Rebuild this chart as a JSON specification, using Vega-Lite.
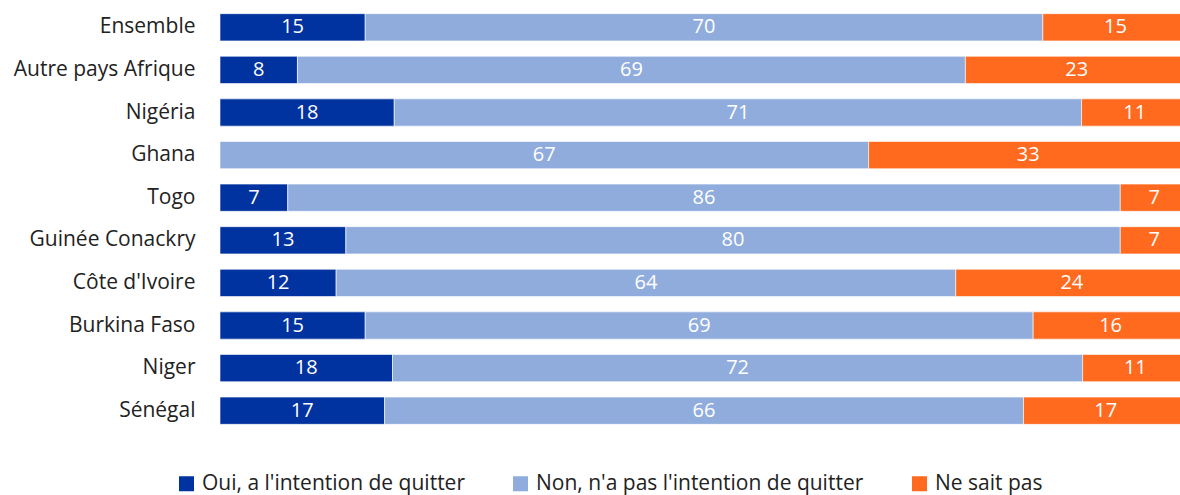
{
  "$schema": "https://vega.github.io/schema/vega-lite/v6.json",
  "width": 960,
  "height": 426,
  "autosize": {"type": "none"},
  "padding": {"left": 220, "top": 6, "right": 0, "bottom": 63},
  "background": "white",
  "config": {
    "view": {"stroke": null},
    "font": "Open Sans",
    "axis": {"labelFont": "Open Sans"},
    "legend": {"labelFont": "Open Sans"}
  },
  "data": {
    "values": [
      {"pays": "Ensemble", "reponse": "Oui, a l'intention de quitter", "rang": 1, "valeur": 15},
      {"pays": "Ensemble", "reponse": "Non, n'a pas l'intention de quitter", "rang": 2, "valeur": 70},
      {"pays": "Ensemble", "reponse": "Ne sait pas", "rang": 3, "valeur": 15},
      {"pays": "Autre pays Afrique", "reponse": "Oui, a l'intention de quitter", "rang": 1, "valeur": 8},
      {"pays": "Autre pays Afrique", "reponse": "Non, n'a pas l'intention de quitter", "rang": 2, "valeur": 69},
      {"pays": "Autre pays Afrique", "reponse": "Ne sait pas", "rang": 3, "valeur": 23},
      {"pays": "Nigéria", "reponse": "Oui, a l'intention de quitter", "rang": 1, "valeur": 18},
      {"pays": "Nigéria", "reponse": "Non, n'a pas l'intention de quitter", "rang": 2, "valeur": 71},
      {"pays": "Nigéria", "reponse": "Ne sait pas", "rang": 3, "valeur": 11},
      {"pays": "Ghana", "reponse": "Oui, a l'intention de quitter", "rang": 1, "valeur": 0},
      {"pays": "Ghana", "reponse": "Non, n'a pas l'intention de quitter", "rang": 2, "valeur": 67},
      {"pays": "Ghana", "reponse": "Ne sait pas", "rang": 3, "valeur": 33},
      {"pays": "Togo", "reponse": "Oui, a l'intention de quitter", "rang": 1, "valeur": 7},
      {"pays": "Togo", "reponse": "Non, n'a pas l'intention de quitter", "rang": 2, "valeur": 86},
      {"pays": "Togo", "reponse": "Ne sait pas", "rang": 3, "valeur": 7},
      {"pays": "Guinée Conackry", "reponse": "Oui, a l'intention de quitter", "rang": 1, "valeur": 13},
      {"pays": "Guinée Conackry", "reponse": "Non, n'a pas l'intention de quitter", "rang": 2, "valeur": 80},
      {"pays": "Guinée Conackry", "reponse": "Ne sait pas", "rang": 3, "valeur": 7},
      {"pays": "Côte d'Ivoire", "reponse": "Oui, a l'intention de quitter", "rang": 1, "valeur": 12},
      {"pays": "Côte d'Ivoire", "reponse": "Non, n'a pas l'intention de quitter", "rang": 2, "valeur": 64},
      {"pays": "Côte d'Ivoire", "reponse": "Ne sait pas", "rang": 3, "valeur": 24},
      {"pays": "Burkina Faso", "reponse": "Oui, a l'intention de quitter", "rang": 1, "valeur": 15},
      {"pays": "Burkina Faso", "reponse": "Non, n'a pas l'intention de quitter", "rang": 2, "valeur": 69},
      {"pays": "Burkina Faso", "reponse": "Ne sait pas", "rang": 3, "valeur": 16},
      {"pays": "Niger", "reponse": "Oui, a l'intention de quitter", "rang": 1, "valeur": 18},
      {"pays": "Niger", "reponse": "Non, n'a pas l'intention de quitter", "rang": 2, "valeur": 72},
      {"pays": "Niger", "reponse": "Ne sait pas", "rang": 3, "valeur": 11},
      {"pays": "Sénégal", "reponse": "Oui, a l'intention de quitter", "rang": 1, "valeur": 17},
      {"pays": "Sénégal", "reponse": "Non, n'a pas l'intention de quitter", "rang": 2, "valeur": 66},
      {"pays": "Sénégal", "reponse": "Ne sait pas", "rang": 3, "valeur": 17}
    ]
  },
  "transform": [
    {"stack": "valeur", "groupby": ["pays"], "offset": "normalize", "sort": [{"field": "rang", "order": "ascending"}], "as": ["v0", "v1"]},
    {"calculate": "(datum.v0 + datum.v1) / 2", "as": "vmid"}
  ],
  "encoding": {
    "y": {
      "field": "pays",
      "type": "nominal",
      "sort": ["Ensemble", "Autre pays Afrique", "Nigéria", "Ghana", "Togo", "Guinée Conackry", "Côte d'Ivoire", "Burkina Faso", "Niger", "Sénégal"],
      "scale": {"paddingInner": 0.36, "paddingOuter": 0.18},
      "axis": {
        "title": null,
        "domain": false,
        "ticks": false,
        "labelPadding": 25,
        "labelFontSize": 21,
        "labelColor": "#222222",
        "labelLimit": 220
      }
    }
  },
  "layer": [
    {
      "mark": {"type": "bar", "clip": true, "stroke": "white", "strokeWidth": 0.6},
      "encoding": {
        "x": {"field": "v0", "type": "quantitative", "scale": {"domain": [0, 0.9917], "nice": false, "zero": true}, "axis": null},
        "x2": {"field": "v1"},
        "color": {
          "field": "reponse",
          "type": "nominal",
          "scale": {
            "domain": ["Oui, a l'intention de quitter", "Non, n'a pas l'intention de quitter", "Ne sait pas"],
            "range": ["#0033A0", "#8FACDD", "#FF6A1F"]
          },
          "legend": {
            "title": null,
            "orient": "none",
            "direction": "horizontal",
            "legendX": -44,
            "legendY": 467,
            "padding": 0,
            "symbolType": "square",
            "symbolSize": 225,
            "symbolStrokeWidth": 0,
            "labelFontSize": 21,
            "labelColor": "#222222",
            "labelOffset": 5,
            "columnPadding": 45,
            "labelLimit": 400
          }
        }
      }
    },
    {
      "transform": [{"filter": "datum.valeur > 0"}],
      "mark": {"type": "text", "color": "white", "fontSize": 20, "baseline": "middle", "align": "center", "clip": false},
      "encoding": {
        "x": {"field": "vmid", "type": "quantitative"},
        "text": {"field": "valeur", "type": "quantitative"}
      }
    }
  ]
}
